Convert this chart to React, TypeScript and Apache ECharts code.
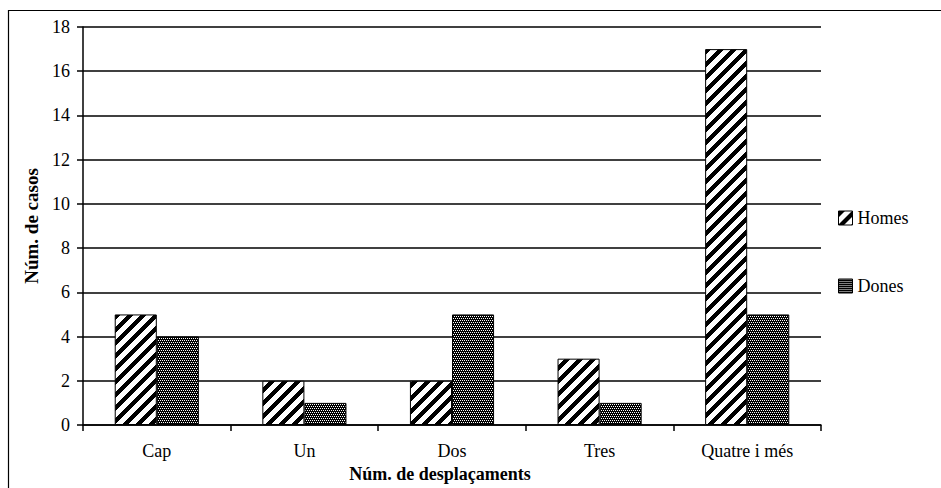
import React, { useEffect, useRef } from "react";
import * as echarts from "echarts";

const categories = ["Cap", "Un", "Dos", "Tres", "Quatre i més"];
const homes = [5, 2, 2, 3, 17];
const dones = [4, 1, 5, 1, 5];
const seriesNames = ["Homes", "Dones"];
const xAxisName = "Núm. de desplaçaments";
const yAxisName = "Núm. de casos";

function makeTile(size: number, fn: (x: number, y: number) => boolean): string {
  const c = document.createElement("canvas");
  c.width = size;
  c.height = size;
  const ctx = c.getContext("2d")!;
  const img = ctx.createImageData(size, size);
  for (let y = 0; y < size; y++) {
    for (let x = 0; x < size; x++) {
      const i = (y * size + x) * 4;
      const v = fn(x, y) ? 0 : 255;
      img.data[i] = v;
      img.data[i + 1] = v;
      img.data[i + 2] = v;
      img.data[i + 3] = 255;
    }
  }
  ctx.putImageData(img, 0, 0);
  return c.toDataURL();
}

export default function App() {
  const ref = useRef<HTMLDivElement>(null);
  useEffect(() => {
    if (!ref.current) return;
    const chart = echarts.init(ref.current, null, { renderer: "svg" });
    const stripe = makeTile(13, (x, y) => (x + y) % 13 < 6);
    const dots = makeTile(4, (x, y) => !((y === 0 && x % 2 === 0) || (y === 2 && x % 2 === 1)));
    const font = "Liberation Serif";
    chart.setOption({
      animation: false,
      backgroundColor: "#fff",
      textStyle: { fontFamily: font, color: "#000" },
      graphic: [
        {
          type: "rect",
          shape: { x: 8.5, y: 10.5, width: 940, height: 490 },
          style: { fill: "none", stroke: "#000", lineWidth: 1.2 },
          silent: true,
          z: -1,
        },
      ],
      grid: { left: 83, right: 120, top: 27, bottom: 62 },
      legend: {
        orient: "vertical",
        left: 833,
        top: 204,
        itemWidth: 14,
        itemHeight: 14,
        itemGap: 50,
        icon: "rect",
        textStyle: { fontFamily: font, fontSize: 18, color: "#000" },
        itemStyle: { borderColor: "#000", borderWidth: 1 },
        data: seriesNames,
      },
      xAxis: {
        type: "category",
        data: categories,
        name: xAxisName,
        nameLocation: "middle",
        nameGap: 40,
        nameTextStyle: { fontFamily: font, fontSize: 18, fontWeight: "bold", color: "#000", padding: [0, 24, 0, 0] },
        axisLine: { lineStyle: { color: "#000", width: 1.5 } },
        axisTick: { show: true, length: 6, inside: false, lineStyle: { color: "#000", width: 1.5 } },
        axisLabel: { fontFamily: font, fontSize: 18, color: "#000", margin: 17 },
      },
      yAxis: {
        type: "value",
        min: 0,
        max: 18,
        interval: 2,
        name: yAxisName,
        nameLocation: "middle",
        nameGap: 41,
        nameTextStyle: { fontFamily: font, fontSize: 19, fontWeight: "bold", color: "#000" },
        axisLine: { show: true, lineStyle: { color: "#000", width: 1.5 } },
        axisTick: { show: true, length: 6, lineStyle: { color: "#000", width: 1.5 } },
        axisLabel: { fontFamily: font, fontSize: 18, color: "#000", margin: 13 },
        splitLine: { show: true, lineStyle: { color: "#000", width: 1.5 } },
      },
      series: [
        {
          name: seriesNames[0],
          type: "bar",
          data: homes,
          barGap: "0%",
          barCategoryGap: "43%",
          itemStyle: { color: { image: stripe, repeat: "repeat" } as any, borderColor: "#000", borderWidth: 1 },
        },
        {
          name: seriesNames[1],
          type: "bar",
          data: dones,
          barGap: "0%",
          barCategoryGap: "43%",
          itemStyle: { color: { image: dots, repeat: "repeat" } as any, borderColor: "#000", borderWidth: 1 },
        },
      ],
    });
    return () => chart.dispose();
  }, []);
  return (
    <div
      ref={ref}
      style={{ position: "fixed", left: 0, top: 0, width: 941, height: 488 }}
    />
  );
}
